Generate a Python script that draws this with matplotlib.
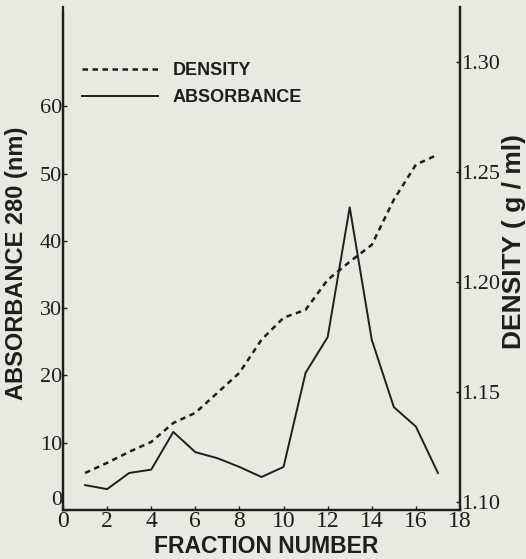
import matplotlib
matplotlib.use("Agg")
import matplotlib.pyplot as plt

# fraction numbers and the two measured series
fractions = [1, 2, 3, 4, 5, 6, 7, 8, 9, 10, 11, 12, 13, 14, 15, 16, 17]
absorbance = [3.7, 3.1, 5.5, 6.0, 11.6, 8.6, 7.7, 6.4, 4.9, 6.4, 20.4, 25.7, 45.0, 25.3, 15.3, 12.4, 5.5]
density = [1.1132, 1.1178, 1.1228, 1.1273, 1.1359, 1.1405, 1.1496, 1.1587, 1.1737, 1.1837, 1.1873,
           1.2009, 1.2091, 1.2168, 1.2373, 1.2532, 1.2578]

x_ticks = [0, 2, 4, 6, 8, 10, 12, 14, 16, 18]
abs_ticks = [0, 10, 20, 30, 40, 50, 60]
abs_labels = ["0", "10", "20", "30", "40", "50", "60"]
dens_ticks = [1.10, 1.15, 1.20, 1.25, 1.30]
dens_labels = ["1.10", "1.15", "1.20", "1.25", "1.30"]

bg = "#e8e9e1"
ink = "#1e1e1e"
serif = "Liberation Serif"
sans = "Liberation Sans"

fig = plt.figure(figsize=(5.26, 5.59), dpi=100, facecolor=bg)
ax = fig.add_axes([0.1198, 0.0877, 0.7547, 0.9006])
ax.set_facecolor(bg)
ax2 = ax.twinx()

dens_line, = ax2.plot(fractions, density, color=ink, lw=1.8, dashes=(2.2, 1.8))
abs_line, = ax.plot(fractions, absorbance, color=ink, lw=1.4)

ax.set_xlim(0, 18)
ax.set_ylim(0, 74.85)
ax2.set_ylim(1.0964, 1.325)
ax.spines["left"].set_bounds(0, 74.1)

ax.set_xticks(x_ticks)
ax.set_xticklabels([str(t) for t in x_ticks], fontfamily=serif, fontsize=17)
ax.set_yticks(abs_ticks)
ax.set_yticklabels(abs_labels, fontfamily=serif, fontsize=16)
ax2.set_yticks(dens_ticks)
ax2.set_yticklabels(dens_labels, fontfamily=serif, fontsize=16)
# the zero label sits just above the corner in the original
ax.get_yticklabels()[0].set_verticalalignment("bottom")

ax.tick_params(axis="x", direction="in", length=3, width=1, pad=1, colors=ink)
ax.tick_params(axis="y", direction="in", length=3, width=1, pad=0.5, colors=ink)
ax2.tick_params(axis="y", direction="in", length=3, width=1, pad=1, colors=ink)

for a in (ax, ax2):
    a.spines["top"].set_visible(False)
    for s in ("left", "right", "bottom"):
        a.spines[s].set_linewidth(1.6)
        a.spines[s].set_color(ink)

ax.set_xlabel("FRACTION NUMBER", fontfamily=sans, fontweight="bold", fontsize=16.5, color=ink)
ax.xaxis.set_label_coords(0.511, -0.05)
ax.set_ylabel("ABSORBANCE 280 (nm)", fontfamily=sans, fontweight="bold", fontsize=17, color=ink)
ax.yaxis.set_label_coords(-0.087, 0.49)
ax2.set_ylabel("DENSITY ( g / ml)", fontfamily=sans, fontweight="bold", fontsize=19, color=ink)
ax2.yaxis.set_label_coords(1.106, 0.534)

leg = ax.legend([dens_line, abs_line], ["DENSITY", "ABSORBANCE"], loc="upper left",
                bbox_to_anchor=(0.048, 0.89), frameon=False, handlelength=4.2,
                handletextpad=0.83, labelspacing=0.55, borderpad=0, borderaxespad=0,
                prop={"family": sans, "weight": "bold", "size": 13})
for t in leg.get_texts():
    t.set_color(ink)

fig.savefig("out.png", dpi=100, facecolor=bg)
